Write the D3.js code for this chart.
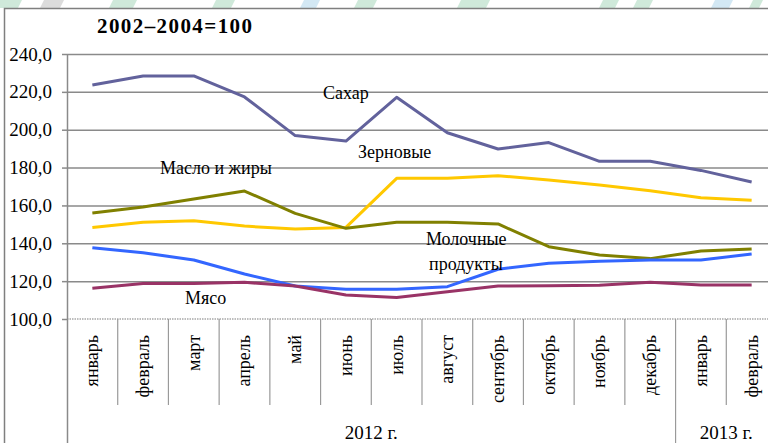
<!DOCTYPE html>
<html>
<head>
<meta charset="utf-8">
<script src="https://cdn.jsdelivr.net/npm/d3@7"></script>
<style>
   body { margin: 0; background: #fff; }
   svg, svg text { font-family: "Liberation Serif", "Times New Roman", Times, serif !important; }
   .grid line { stroke: #8a8a8a; stroke-width: 1.5; }
   .grid path { display: none; }
   .y-axis path { display: none; }
   .y-axis line { stroke: #8a8a8a; stroke-width: 1.5; }
   .y-axis text { font-size: 19px; fill: #000; }
   .serie { fill: none; stroke-width: 3; stroke-linejoin: round; }
   .s-label { font-size: 18px; fill: #000; }
   .m-label { font-size: 18px; fill: #000; }
   .yr-label { font-size: 19px; fill: #000; }
</style>
</head>
<body>
<script>
const months = ["январь", "февраль", "март", "апрель", "май", "июнь", "июль",
   "август", "сентябрь", "октябрь", "ноябрь", "декабрь", "январь", "февраль"];
const years = [
   { label: "2012 г.", from: 0, to: 12 },
   { label: "2013 г.", from: 12, to: 14 }
];
const yTicks = [100, 120, 140, 160, 180, 200, 220, 240];

const sugar  = [223.6, 228.4, 228.4, 217.3, 196.9, 194.0, 217.1, 198.4, 189.8, 193.2, 183.3, 183.3, 178.5, 172.4];
const grains = [148.4, 151.1, 151.9, 149.1, 147.5, 148.4, 174.3, 174.3, 175.7, 173.4, 170.8, 167.8, 164.1, 162.7];
const oils   = [156.0, 159.2, 163.4, 167.6, 155.8, 147.9, 151.1, 151.1, 150.2, 138.2, 133.8, 131.9, 135.9, 137.0];
const dairy  = [137.7, 135.0, 131.2, 123.8, 117.4, 115.7, 115.7, 117.1, 126.3, 129.4, 130.5, 131.2, 131.2, 134.3];
const meat   = [116.2, 118.7, 118.7, 119.4, 117.4, 112.7, 111.3, 114.4, 117.4, 117.6, 117.8, 119.4, 118.0, 118.0];

const series = [
   { name: "Сахар", values: sugar, color: "#62629c" },
   { name: "Зерновые", values: grains, color: "#ffc800" },
   { name: "Масло и жиры", values: oils, color: "#808000" },
   { name: "Молочные продукты", values: dairy, color: "#3366ff" },
   { name: "Мясо", values: meat, color: "#993366" }
];

const W = 768, H = 443;
const m = { left: 67, top: 54, right: 777, bottom: 319 };
const serif = "Liberation Serif";

let svg = d3.select("body").append("svg")
   .attr("width", W)
   .attr("height", H)
   .attr("font-family", serif)
   .style("display", "block");

// faint watermark strokes showing above the frame
const marks = [[0, 22, "#cfe9da"], [44, 20, "#dcdcdc"], [113, 24, "#cfe9da"], [216, 19, "#cfe9da"],
   [304, 16, "#d3e8f4"], [358, 19, "#cfe9da"], [461, 29, "#cfe9da"], [603, 16, "#cfe9da"],
   [637, 16, "#cfe9da"], [715, 18, "#d3e8f4"], [753, 10, "#cfe9da"]];
svg.append("g").selectAll("path")
   .data(marks)
 .enter().append("path")
   .attr("d", d => "M" + d[0] + ",0 h" + d[1] + " l-4,8 h-" + d[1] + "z")
   .attr("fill", d => d[2]);

// outer frame
svg.append("path")
   .attr("d", "M4.5," + H + " V8.5 H" + W)
   .attr("fill", "none")
   .attr("stroke", "#7f7f7f")
   .attr("stroke-width", 1.5);

let x = d3.scaleBand()
   .domain(d3.range(months.length))
   .range([m.left, m.right])
   .padding(0);
let cx = i => x(i) + x.bandwidth() / 2;

let y = d3.scaleLinear()
   .domain([100, 240])
   .range([m.bottom, m.top]);

// horizontal gridlines
svg.append("g")
   .attr("class", "grid")
   .attr("transform", "translate(" + m.left + ",0)")
   .call(d3.axisRight(y).tickValues(yTicks.slice(1)).tickSize(m.right - m.left).tickFormat(""));

// y axis ticks and labels
svg.append("g")
   .attr("class", "y-axis")
   .attr("transform", "translate(" + m.left + ",0)")
   .call(d3.axisLeft(y).tickValues(yTicks).tickSizeInner(5).tickSizeOuter(0).tickPadding(10)
      .tickFormat(d => d3.format(".1f")(d).replace(".", ",")))
   .attr("font-family", serif)
   .attr("font-size", 19);

// base line (dotted)
svg.append("line")
   .attr("x1", m.left).attr("x2", W)
   .attr("y1", y(100)).attr("y2", y(100))
   .attr("stroke", "#a8a8a8")
   .attr("stroke-width", 1.5)
   .attr("stroke-dasharray", "1.5,1");

// vertical axis line down to the bottom
svg.append("line")
   .attr("x1", m.left + 0.5).attr("x2", m.left + 0.5)
   .attr("y1", m.top).attr("y2", H)
   .attr("stroke", "#8a8a8a")
   .attr("stroke-width", 1.5);

// category separators below the axis
svg.append("g").selectAll("line")
   .data(d3.range(1, months.length))
 .enter().append("line")
   .attr("x1", i => x(i)).attr("x2", i => x(i))
   .attr("y1", m.bottom)
   .attr("y2", i => years.some(yr => yr.from === i) ? H : 405)
   .attr("stroke", "#9a9a9a")
   .attr("stroke-width", 1.2);

// month labels
svg.append("g").selectAll("text")
   .data(months)
 .enter().append("text")
   .attr("class", "m-label")
   .attr("transform", (d, i) => "translate(" + cx(i) + ",335) rotate(-90)")
   .attr("text-anchor", "end")
   .attr("dy", "0.33em")
   .text(d => d);

// year labels
svg.append("g").selectAll("text")
   .data(years)
 .enter().append("text")
   .attr("class", "yr-label")
   .attr("x", d => (x(d.from) + x(d.to - 1) + x.bandwidth()) / 2)
   .attr("y", 439)
   .attr("text-anchor", "middle")
   .text(d => d.label);

// lines
let line = d3.line()
   .x((d, i) => cx(i))
   .y(d => y(d));

svg.append("g").selectAll("path")
   .data(series)
 .enter().append("path")
   .attr("class", "serie")
   .attr("stroke", d => d.color)
   .attr("d", d => line(d.values));

// series labels
const labels = [
   { text: ["Сахар"], x: 323, y: 99 },
   { text: ["Зерновые"], x: 358, y: 158 },
   { text: ["Масло и жиры"], x: 160, y: 174 },
   { text: ["Молочные", "продукты"], x: 426, y: 245 },
   { text: ["Мясо"], x: 185, y: 304 }
];
let lab = svg.append("g").selectAll("text")
   .data(labels)
 .enter().append("text")
   .attr("class", "s-label")
   .attr("x", d => d.x)
   .attr("y", d => d.y);
lab.selectAll("tspan")
   .data(d => d.text.map((t, k) => ({ t: t, k: k, x: d.x })))
 .enter().append("tspan")
   .attr("x", d => d.x + d.k * 3)
   .attr("dy", d => d.k ? 25 : 0)
   .text(d => d.t);

// title
svg.append("text")
   .attr("x", 97)
   .attr("y", 33)
   .attr("font-size", 21)
   .attr("font-weight", "bold")
   .attr("textLength", 155)
   .attr("lengthAdjust", "spacing")
   .text("2002–2004=100");
</script>
</body>
</html>
